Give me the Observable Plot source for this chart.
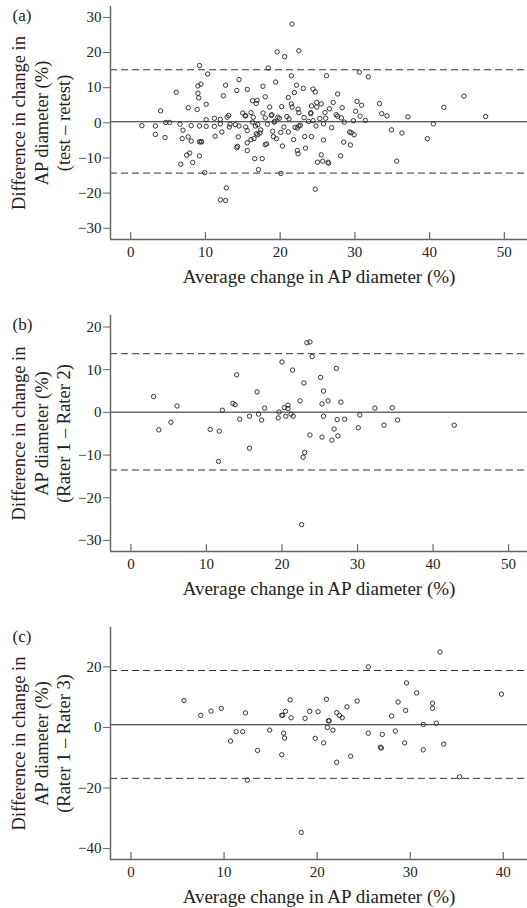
<!DOCTYPE html>
<html><head><meta charset="utf-8">
<script src="https://cdn.jsdelivr.net/npm/d3@7"></script>
<script src="https://cdn.jsdelivr.net/npm/@observablehq/plot@0.6"></script>
<style>
body{margin:0;background:#fff;}
#chart svg{display:block;}
</style></head><body><div id="chart"></div>
<script>
// Panel (a): test – retest
const aAvg = [1.5,3.3,3.3,4.0,4.6,4.7,5.2,6.1,6.6,6.7,6.9,7.0,7.7,7.7,7.5,7.9,8.1,8.1,8.3,8.9,9.0,9.0,9.1,9.2,9.4,9.2,9.2,9.4,9.5,9.2,9.9,10.1,10.1,10.1,10.3,11.2,11.2,11.3,12.0,12.0,12.2,12.0,12.7,12.8,12.4,12.7,12.9,13.1,13.2,13.3,14.2,14.5,14.0,14.5,14.4,14.2,14.3,15.0,15.3,15.4,15.6,15.4,15.6,15.6,15.6,16.1,16.3,16.4,16.1,16.5,16.3,16.9,16.8,16.7,16.8,17.0,17.0,16.6,17.1,17.3,17.4,17.7,17.7,17.6,18.0,18.0,18.0,18.2,18.3,18.4,18.6,18.8,18.9,19.0,19.1,19.2,19.3,19.4,19.5,19.6,19.7,19.9,20.1,20.3,20.1,20.2,20.5,20.6,20.9,21.1,21.2,21.1,21.5,21.5,21.6,21.6,21.8,21.9,22.0,22.2,22.3,22.4,22.5,22.5,22.3,22.4,22.5,22.7,23.1,23.2,23.3,23.4,23.8,24.1,24.1,24.2,24.2,24.4,24.4,24.7,24.8,24.9,24.9,24.7,25.0,25.3,25.5,25.5,25.7,25.8,25.8,26.0,26.1,26.2,26.4,26.5,26.6,26.9,27.1,27.5,27.7,27.7,28.1,28.2,28.3,28.6,28.5,29.3,29.4,29.5,29.9,29.8,30.1,30.3,30.6,30.7,30.9,31.4,31.8,33.3,33.6,34.3,34.9,35.6,36.3,37.1,39.7,40.5,41.9,44.6,47.5];
const aDiff = [-0.8,-0.9,-3.3,3.4,-4.2,0.1,0.1,8.7,-0.4,-11.8,-4.5,-2.1,4.3,-4.0,-9.2,-8.6,-0.8,-5.2,-11.3,3.8,10.5,8.4,7.1,16.3,11.0,-0.9,-5.4,-5.4,-5.4,-9.4,-14.2,-1.0,0.9,5.3,13.9,-1.0,1.3,-3.8,1.0,-0.3,-2.6,-21.9,-22.1,-18.5,7.7,10.7,1.6,2.1,-1.2,-0.4,9.2,12.3,-0.5,-0.9,-4.0,-7.1,-6.7,2.8,2.0,2.0,9.5,-1.2,-2.2,-5.7,-7.9,2.9,0.2,1.6,-4.8,-4.5,6.3,6.4,5.5,-0.9,-3.1,-0.5,-3.4,-10.2,-13.3,-2.9,-2.0,10.4,2.8,-10.2,1.4,7.4,-6.2,-6.0,-0.4,15.6,4.5,2.1,2.3,-2.4,-3.9,0.2,0.4,11.6,-4.5,20.2,1.6,1.3,-2.7,-6.6,-14.4,4.6,-1.2,18.8,1.8,7.2,1.1,-2.6,13.4,5.4,4.5,28.1,-4.8,8.6,-1.3,10.7,-1.5,3.9,2.9,20.5,-7.9,-8.8,-0.9,-0.7,9.8,1.5,-3.9,-7.2,0.4,2.9,2.6,4.8,-3.9,9.6,0.6,8.8,-0.9,5.8,4.5,-18.9,-11.2,1.2,5.4,-9.1,-10.9,-0.3,-4.9,2.9,1.3,13.4,-11.2,-11.5,4.0,-1.4,5.8,2.3,8.2,1.9,-9.4,1.4,4.3,0.2,-5.5,-2.6,-6.3,-2.8,-3.4,0.6,3.3,6.1,14.4,1.9,5.0,0.7,13.1,5.5,2.6,2.0,-2.0,-10.9,-2.9,1.7,-4.5,-0.3,4.4,7.6,1.8];
const aMean = 0.3, aLimits = [15.1, -14.3];

// Panel (b): Rater 1 – Rater 2
const bAvg = [3.0,3.7,5.3,6.1,10.5,11.7,11.6,12.1,13.5,13.8,14.0,14.4,15.7,15.7,16.7,16.9,17.3,17.7,19.5,19.6,20.0,20.3,20.5,20.8,20.8,21.2,21.4,21.5,22.4,22.6,22.9,22.8,23.0,23.3,23.7,24.0,23.7,25.1,25.3,25.5,25.5,25.3,26.1,26.6,26.9,27.2,27.3,27.4,27.8,28.3,30.1,30.3,32.3,33.5,34.6,35.3,42.8];
const bDiff = [3.7,-4.1,-2.3,1.5,-4.0,-4.4,-11.5,0.5,2.1,1.8,8.8,-1.6,-0.9,-8.4,4.8,-0.4,-1.8,1.0,-1.3,0.1,11.8,1.1,-0.9,1.7,0.9,-0.4,9.9,-0.9,2.7,-26.3,6.9,-10.5,-9.4,16.3,16.5,13.1,-5.3,8.2,2.0,5.0,-0.9,-5.8,2.7,-6.5,-3.9,10.3,-1.7,-5.5,2.4,-1.6,-3.6,-0.6,1.0,-3.0,1.1,-1.8,-3.0];
const bMean = 0.05, bLimits = [13.75, -13.5];

// Panel (c): Rater 1 – Rater 3
const cAvg = [5.7,7.5,8.6,9.7,10.7,11.3,12.0,12.3,12.5,13.6,14.9,16.2,16.3,16.4,16.2,16.5,16.6,17.1,17.2,18.7,18.3,19.2,19.8,20.1,20.7,21.0,21.1,21.2,21.3,21.7,22.1,22.1,22.4,22.7,23.2,23.6,24.3,25.5,25.5,26.8,26.9,27.0,28.0,28.4,28.7,29.4,29.5,29.6,30.7,31.4,31.4,32.4,32.4,32.8,33.2,33.6,35.3,39.8];
const cDiff = [8.9,4.0,5.4,6.3,-4.5,-1.4,-1.4,4.8,-17.4,-7.6,-0.9,4.0,4.0,-1.9,-9.0,-3.5,5.3,9.1,3.2,3.0,-34.7,5.3,-3.6,5.2,-5.1,9.3,0.0,2.2,2.2,-0.9,-11.5,4.9,4.0,3.2,6.8,-9.5,8.7,20.0,-1.9,-6.5,-6.8,-2.3,3.8,-1.2,8.4,-5.1,5.6,14.7,11.4,1.0,-7.4,8.0,6.3,1.4,24.9,-5.5,-16.3,11.0];
const cMean = 0.9, cLimits = [18.8, -16.8];

const xTicksAB = [0,10,20,30,40,50];
const xTicksC = [0,10,20,30,40];
const yTicksA = [30,20,10,0,-10,-20,-30];
const yTicksB = [20,10,0,-10,-20,-30];
const yTicksC = [20,0,-20,-40];

const xLabel = "Average change in AP diameter (%)";
const FONT = "'Liberation Serif', 'DejaVu Serif', serif";
const INK = "#222";
const AXIS = "#666";

const tickUp = {draw(context, l) { context.moveTo(0, 0); context.lineTo(0, -l); }};

function panel({tag, ylabel, xs, ys, mean, limits, xDomain, yDomain, xTicks, yTicks, height, marginTop, marginBottom}) {
  const data = xs.map((x, i) => ({x, y: ys[i]}));
  return Plot.plot({
    width: 527, height, marginTop, marginBottom, marginLeft: 110, marginRight: 0,
    style: {fontFamily: FONT, fontSize: "15px", background: "white", color: INK, overflow: "visible"},
    x: {domain: xDomain},
    y: {domain: yDomain},
    marks: [
      Plot.ruleY(limits, {stroke: "#333", strokeWidth: 1, strokeDasharray: "7,4"}),
      Plot.ruleY([mean], {stroke: INK, strokeWidth: 1}),
      Plot.dot(data, {x: "x", y: "y", r: 2.2, stroke: INK, strokeWidth: 0.9, fill: "none"}),
      Plot.ruleX([xDomain[0]], {stroke: AXIS, strokeWidth: 1.5}),
      Plot.ruleY([yDomain[0]], {stroke: AXIS, strokeWidth: 1.5}),
      Plot.axisY(yTicks, {tickSize: 7, tickPadding: 2, fontSize: 15, label: null, stroke: AXIS}),
      Plot.axisX(xTicks, {tickSize: 0, tickPadding: 7, fontSize: 15, label: null}),
      Plot.vector(xTicks, {x: d => d, y: () => yDomain[0], length: 7, anchor: "start", shape: tickUp, stroke: AXIS, strokeWidth: 1.2}),
      Plot.text([ylabel], {text: d => d, frameAnchor: "left", dx: -70, rotate: -90, textAnchor: "middle", lineAnchor: "middle", lineHeight: 1.2, fontSize: 18.5, fill: INK}),
      Plot.text([xLabel], {text: d => d, frameAnchor: "bottom", dy: 43, textAnchor: "middle", lineAnchor: "bottom", fontSize: 19, fill: INK}),
      Plot.text([tag], {text: d => d, frameAnchor: "top-left", dx: -98, dy: 2, textAnchor: "start", lineAnchor: "top", fontSize: 17, fill: INK})
    ]
  });
}

const root = document.getElementById("chart");
root.append(panel({
  tag: "(a)", ylabel: "Difference in change in\nAP diameter (%)\n(test – retest)",
  xs: aAvg, ys: aDiff, mean: aMean, limits: aLimits,
  xDomain: [-2.7, 53.1], yDomain: [-33.2, 33.1], xTicks: xTicksAB, yTicks: yTicksA,
  height: 290, marginTop: 6, marginBottom: 51
}));
root.append(panel({
  tag: "(b)", ylabel: "Difference in change in\nAP diameter (%)\n(Rater 1 – Rater 2)",
  xs: bAvg, ys: bDiff, mean: bMean, limits: bLimits,
  xDomain: [-2.7, 52.5], yDomain: [-32.6, 22.7], xTicks: xTicksAB, yTicks: yTicksB,
  height: 310, marginTop: 25, marginBottom: 49
}));
root.append(panel({
  tag: "(c)", ylabel: "Difference in change in\nAP diameter (%)\n(Rater 1 – Rater 3)",
  xs: cAvg, ys: cDiff, mean: cMean, limits: cLimits,
  xDomain: [-2.2, 42.6], yDomain: [-43.6, 33.0], xTicks: xTicksC, yTicks: yTicksC,
  height: 308, marginTop: 27, marginBottom: 49
}));
</script></body></html>
